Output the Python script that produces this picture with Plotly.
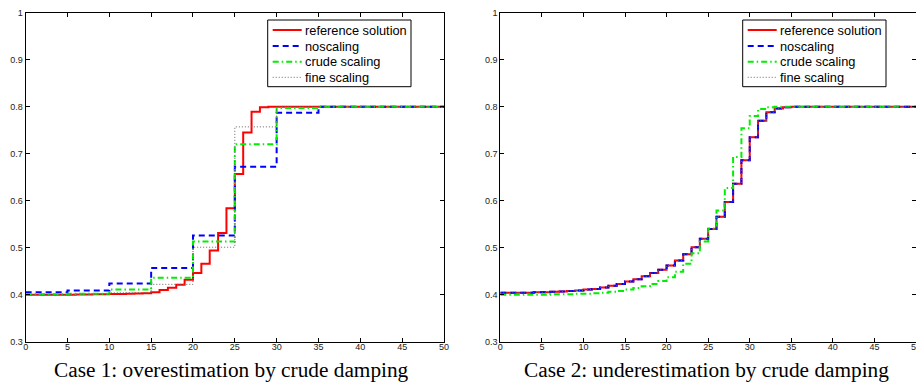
import plotly.graph_objects as go

# ---------------- data ----------------
# Case 1: unit-width steps on [0, 50] for the reference solution
case1_ref_x = list(range(0, 50))
case1_ref = [0.400, 0.400, 0.400, 0.400, 0.400, 0.400, 0.4005, 0.4005, 0.401, 0.401,
             0.4012, 0.4015, 0.402, 0.4025, 0.403,
             0.405, 0.410, 0.415, 0.421, 0.432, 0.446, 0.466, 0.494, 0.531, 0.584,
             0.657, 0.745, 0.789, 0.799,
             0.800, 0.800, 0.800, 0.800, 0.800, 0.800, 0.800, 0.800, 0.800, 0.800,
             0.800, 0.800, 0.800, 0.800, 0.800, 0.800, 0.800, 0.800, 0.800, 0.800, 0.800]
# Case 1: coarse steps (width 5)
case1_coarse_x = [0, 5, 10, 15, 20, 25, 30, 35, 40, 45]
case1_noscaling = [0.405, 0.409, 0.424, 0.457, 0.526, 0.672, 0.787, 0.800, 0.800, 0.800]
case1_crude = [0.401, 0.402, 0.411, 0.436, 0.513, 0.720, 0.797, 0.800, 0.800, 0.800]
case1_fine = [0.400, 0.401, 0.404, 0.422, 0.501, 0.757, 0.800, 0.800, 0.800, 0.800]

# Case 2: unit-width steps
case2_x = list(range(0, 50))
case2_ref = [0.404, 0.404, 0.404, 0.404, 0.405, 0.405, 0.406, 0.407, 0.408, 0.409,
             0.411, 0.412, 0.4155, 0.419, 0.423, 0.428, 0.433, 0.439, 0.446, 0.453,
             0.462, 0.473, 0.486, 0.501, 0.519, 0.540, 0.566, 0.597, 0.636, 0.686,
             0.735, 0.770, 0.788, 0.796, 0.799,
             0.800, 0.800, 0.800, 0.800, 0.800, 0.800, 0.800, 0.800, 0.800, 0.800,
             0.800, 0.800, 0.800, 0.800, 0.800]
case2_noscaling = [0.404, 0.404, 0.404, 0.404, 0.405, 0.405, 0.406, 0.407, 0.408, 0.409,
                   0.411, 0.412, 0.4155, 0.419, 0.423, 0.428, 0.433, 0.439, 0.446, 0.453,
                   0.462, 0.473, 0.486, 0.501, 0.519, 0.540, 0.566, 0.597, 0.636, 0.686,
                   0.735, 0.770, 0.788, 0.796, 0.799,
                   0.800, 0.800, 0.800, 0.800, 0.800, 0.800, 0.800, 0.800, 0.800, 0.800,
                   0.800, 0.800, 0.800, 0.800, 0.800]
case2_crude = [0.400, 0.400, 0.400, 0.400, 0.400, 0.400, 0.401, 0.401, 0.401, 0.402,
               0.402, 0.403, 0.404, 0.406, 0.408, 0.411, 0.414, 0.418, 0.423, 0.429,
               0.437, 0.449, 0.466, 0.488, 0.513, 0.541, 0.579, 0.627, 0.693, 0.754,
               0.780, 0.795, 0.799,
               0.800, 0.800, 0.800, 0.800, 0.800, 0.800, 0.800, 0.800, 0.800, 0.800,
               0.800, 0.800, 0.800, 0.800, 0.800]
case2_fine = [0.404, 0.404, 0.404, 0.404, 0.405, 0.405, 0.406, 0.407, 0.408, 0.409,
              0.411, 0.412, 0.4155, 0.419, 0.423, 0.428, 0.433, 0.439, 0.446, 0.453,
              0.462, 0.473, 0.486, 0.501, 0.519, 0.540, 0.566, 0.597, 0.636, 0.686,
              0.735, 0.770, 0.788, 0.796, 0.799,
              0.800, 0.800, 0.800, 0.800, 0.800, 0.800, 0.800, 0.800, 0.800, 0.800,
              0.800, 0.800, 0.800, 0.800, 0.800]

series_names = ["reference solution", "noscaling", "crude scaling", "fine scaling"]
x_ticks = [0, 5, 10, 15, 20, 25, 30, 35, 40, 45, 50]
y_ticks = [0.3, 0.4, 0.5, 0.6, 0.7, 0.8, 0.9, 1.0]
y_ticktext = ["0.3", "0.4", "0.5", "0.6", "0.7", "0.8", "0.9", "1"]
captions = ["Case 1: overestimation by crude damping",
            "Case 2: underestimation by crude damping"]
X_END = 50

# ---------------- styles / layout constants ----------------
W, H = 916, 385
styles = [
    dict(color="#ff0000", width=2.0, dash="solid"),
    dict(color="#0000ff", width=2.0, dash="6px,4px"),
    dict(color="#00ee00", width=2.0, dash="6px,3px,1.5px,3px"),
    dict(color="#666666", width=1.0, dash="1px,2px"),
]
LEGEND_LEFT_PX = [267.7, 742.7]   # legend box left edge per panel
LEGEND_W_PX, LEGEND_TOP_PX, LEGEND_H_PX = 143.3, 20.0, 66.7
ROW_Y_PX = [30.0, 46.0, 61.7, 77.3]


def step(xs, ys):
    return list(xs) + [X_END], list(ys) + [ys[-1]]


fig = go.Figure()

case1 = [(case1_ref_x, case1_ref), (case1_coarse_x, case1_noscaling),
         (case1_coarse_x, case1_crude), (case1_coarse_x, case1_fine)]
case2 = [(case2_x, case2_ref), (case2_x, case2_noscaling),
         (case2_x, case2_crude), (case2_x, case2_fine)]

for (xs, ys), name, st in zip(case1, series_names, styles):
    sx, sy = step(xs, ys)
    fig.add_trace(go.Scatter(x=sx, y=sy, mode="lines", name=name, line=dict(shape="hv", **st),
                             xaxis="x", yaxis="y", showlegend=False))

for (xs, ys), name, st in zip(case2, series_names, styles):
    sx, sy = step(xs, ys)
    fig.add_trace(go.Scatter(x=sx, y=sy, mode="lines", name=name, line=dict(shape="hv", **st),
                             xaxis="x2", yaxis="y2", showlegend=False))

# ---------------- legend boxes (MATLAB style) ----------------
shapes = []
annotations = []
legend_font = dict(family="Liberation Sans, Arial, sans-serif", size=12.8, color="black")
for left in LEGEND_LEFT_PX:
    shapes.append(dict(type="rect", xref="paper", yref="paper", layer="above",
                       x0=left / W, x1=(left + LEGEND_W_PX) / W,
                       y0=1 - (LEGEND_TOP_PX + LEGEND_H_PX) / H, y1=1 - LEGEND_TOP_PX / H,
                       line=dict(color="black", width=1), fillcolor="white"))
    for name, st, ry in zip(series_names, styles, ROW_Y_PX):
        shapes.append(dict(type="line", xref="paper", yref="paper", layer="above",
                           x0=(left + 5) / W, x1=(left + 34) / W,
                           y0=1 - ry / H, y1=1 - ry / H,
                           line=dict(color=st["color"], width=st["width"], dash=st["dash"])))
        annotations.append(dict(text=name, x=(left + 35.5) / W, y=1 - ry / H,
                                xref="paper", yref="paper", xanchor="left", yanchor="middle",
                                showarrow=False, font=legend_font))

caption_font = dict(family="Liberation Serif, Times New Roman, serif", size=21.3, color="black")
annotations.append(dict(text=captions[0], x=0.2529, y=0.040, xref="paper", yref="paper",
                        xanchor="center", yanchor="middle", showarrow=False, font=caption_font))
annotations.append(dict(text=captions[1], x=0.7716, y=0.040, xref="paper", yref="paper",
                        xanchor="center", yanchor="middle", showarrow=False, font=caption_font))

tickfont = dict(family="Liberation Sans, Arial, sans-serif", size=9, color="#222222")
xcommon = dict(range=[0, 50], tickvals=x_ticks, ticks="inside", ticklen=4, tickwidth=1,
               tickcolor="black", showline=True, linecolor="black", linewidth=1,
               mirror="ticks", showgrid=False, zeroline=False, tickfont=tickfont,
               fixedrange=True, automargin=False, ticklabeloverflow="allow",
               ticklabelstandoff=-3)
ycommon = dict(range=[0.3, 1.0], tickvals=y_ticks, ticktext=y_ticktext, ticks="inside", ticklen=4,
               tickwidth=1, tickcolor="black", showline=True, linecolor="black", linewidth=1,
               mirror="ticks", showgrid=False, zeroline=False, tickfont=tickfont, fixedrange=True,
               automargin=False, ticklabeloverflow="allow", domain=[0.1125, 0.9671])

fig.update_layout(
    width=W, height=H, autosize=False,
    margin=dict(l=0, r=0, t=0, b=0, autoexpand=False),
    paper_bgcolor="white", plot_bgcolor="white",
    showlegend=False,
    xaxis=dict(domain=[0.0280, 0.4847], anchor="y", **xcommon),
    yaxis=dict(anchor="x", **ycommon),
    xaxis2=dict(domain=[0.5462, 1.0], anchor="y2", **xcommon),
    yaxis2=dict(anchor="x2", **ycommon),
    shapes=shapes,
    annotations=annotations,
)

fig.write_html(
    "out.html",
    config={"displayModeBar": False, "staticPlot": True},
    post_script=("document.documentElement.style.margin='0';document.body.style.margin='0';"
                 "document.body.style.padding='0';document.body.style.overflow='hidden';"
                 "document.documentElement.style.overflow='hidden';"),
)
